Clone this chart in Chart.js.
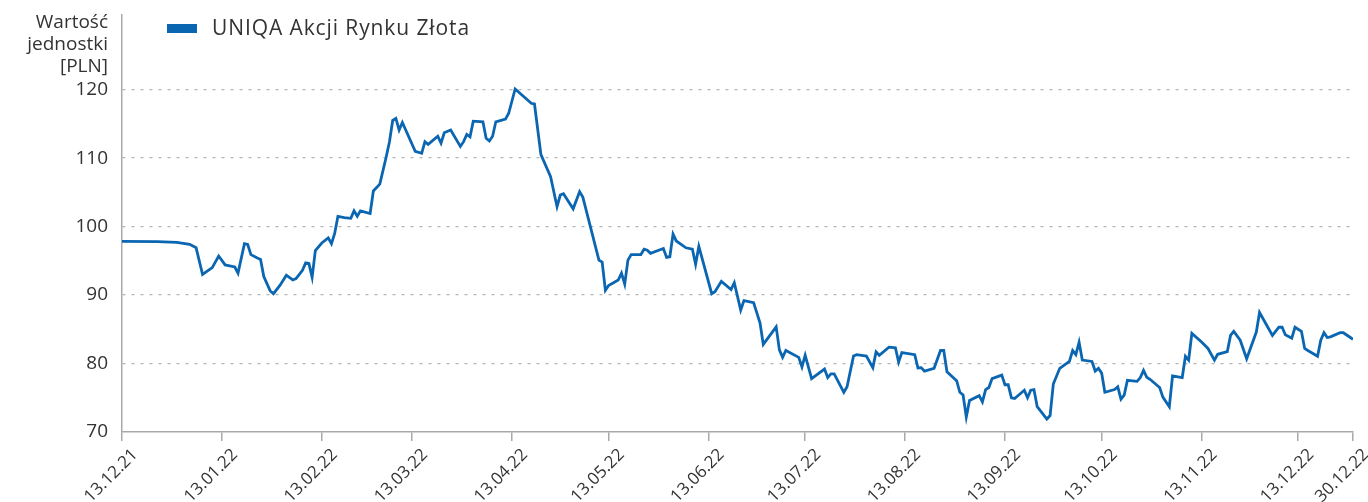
<!DOCTYPE html>
<html>
<head>
<meta charset="utf-8">
<script src="https://cdn.jsdelivr.net/npm/chart.js@4/dist/chart.umd.min.js"></script>
<style>
  html, body { margin: 0; padding: 0; background: #fff; }
  #wrap { width: 1368px; height: 502px; position: relative; }
</style>
</head>
<body>
<div id="wrap"><canvas id="fundChart"></canvas></div>
<script>
// dane
const seriesName = 'UNIQA Akcji Rynku Złota';
const yTitle = ['Wartość', 'jednostki', '[PLN]'];
const yTicks = [70, 80, 90, 100, 110, 120];
const tickLabels = ['13.12.21', '13.01.22', '13.02.22', '13.03.22', '13.04.22', '13.05.22', '13.06.22',
  '13.07.22', '13.08.22', '13.09.22', '13.10.22', '13.11.22', '13.12.22', '30.12.22'];

const dates = [
  '13.12.21', '24.12.21', '30.12.21', '03.01.22', '05.01.22', '07.01.22', '10.01.22', '12.01.22', '14.01.22', '17.01.22',
  '18.01.22', '20.01.22', '21.01.22', '22.01.22', '24.01.22', '25.01.22', '26.01.22', '28.01.22', '29.01.22', '31.01.22',
  '02.02.22', '04.02.22', '05.02.22', '07.02.22', '08.02.22', '09.02.22', '10.02.22', '11.02.22', '13.02.22', '15.02.22',
  '16.02.22', '17.02.22', '18.02.22', '20.02.22', '22.02.22', '23.02.22', '24.02.22', '25.02.22', '28.02.22', '01.03.22',
  '03.03.22', '05.03.22', '06.03.22', '07.03.22', '08.03.22', '09.03.22', '10.03.22', '14.03.22', '16.03.22', '17.03.22',
  '18.03.22', '21.03.22', '22.03.22', '23.03.22', '25.03.22', '28.03.22', '29.03.22', '30.03.22', '31.03.22', '01.04.22',
  '04.04.22', '05.04.22', '06.04.22', '07.04.22', '08.04.22', '11.04.22', '12.04.22', '14.04.22', '19.04.22', '20.04.22',
  '22.04.22', '25.04.22', '27.04.22', '28.04.22', '29.04.22', '02.05.22', '04.05.22', '05.05.22', '10.05.22', '11.05.22',
  '12.05.22', '13.05.22', '16.05.22', '17.05.22', '18.05.22', '19.05.22', '20.05.22', '23.05.22', '24.05.22', '25.05.22',
  '26.05.22', '30.05.22', '31.05.22', '01.06.22', '02.06.22', '03.06.22', '06.06.22', '08.06.22', '09.06.22', '10.06.22',
  '14.06.22', '15.06.22', '17.06.22', '20.06.22', '21.06.22', '23.06.22', '24.06.22', '27.06.22', '29.06.22', '30.06.22',
  '04.07.22', '05.07.22', '06.07.22', '07.07.22', '11.07.22', '12.07.22', '13.07.22', '15.07.22', '19.07.22', '20.07.22',
  '21.07.22', '22.07.22', '25.07.22', '26.07.22', '28.07.22', '29.07.22', '01.08.22', '03.08.22', '04.08.22', '05.08.22',
  '08.08.22', '10.08.22', '11.08.22', '12.08.22', '16.08.22', '17.08.22', '18.08.22', '19.08.22', '22.08.22', '24.08.22',
  '25.08.22', '26.08.22', '29.08.22', '30.08.22', '31.08.22', '01.09.22', '02.09.22', '05.09.22', '06.09.22', '07.09.22',
  '08.09.22', '09.09.22', '12.09.22', '13.09.22', '14.09.22', '15.09.22', '16.09.22', '19.09.22', '20.09.22', '21.09.22',
  '22.09.22', '23.09.22', '26.09.22', '27.09.22', '28.09.22', '30.09.22', '03.10.22', '04.10.22', '05.10.22', '06.10.22',
  '07.10.22', '10.10.22', '11.10.22', '12.10.22', '13.10.22', '14.10.22', '17.10.22', '18.10.22', '19.10.22', '20.10.22',
  '21.10.22', '24.10.22', '25.10.22', '26.10.22', '27.10.22', '28.10.22', '31.10.22', '01.11.22', '03.11.22', '04.11.22',
  '07.11.22', '08.11.22', '09.11.22', '10.11.22', '13.11.22', '15.11.22', '17.11.22', '18.11.22', '21.11.22', '22.11.22',
  '23.11.22', '25.11.22', '27.11.22', '30.11.22', '01.12.22', '05.12.22', '07.12.22', '08.12.22', '09.12.22', '11.12.22',
  '12.12.22', '14.12.22', '15.12.22', '16.12.22', '19.12.22', '20.12.22', '21.12.22', '22.12.22', '23.12.22', '26.12.22',
  '27.12.22', '30.12.22'
];

const values = [
  97.85, 97.8, 97.7, 97.4, 96.9, 93.0, 94.0, 95.7, 94.4, 94.1,
  93.2, 97.5, 97.4, 95.9, 95.4, 95.2, 92.7, 90.6, 90.2, 91.4,
  92.9, 92.2, 92.4, 93.6, 94.7, 94.6, 92.6, 96.5, 97.6, 98.35,
  97.5, 99.0, 101.5, 101.3, 101.2, 102.3, 101.5, 102.3, 101.9, 105.2,
  106.2, 110.2, 112.4, 115.5, 115.8, 114.1, 115.2, 111.0, 110.7, 112.4,
  112.0, 113.2, 112.2, 113.7, 114.1, 111.7, 112.4, 113.45, 113.1, 115.4,
  115.3, 112.9, 112.5, 113.2, 115.3, 115.7, 116.55, 120.1, 118.0, 117.9,
  110.5, 107.3, 102.9, 104.6, 104.8, 102.6, 105.1, 104.3, 95.1, 94.8,
  90.7, 91.4, 92.2, 93.2, 91.6, 95.1, 95.9, 95.9, 96.7, 96.55,
  96.1, 96.8, 95.5, 95.6, 98.9, 97.9, 96.9, 96.7, 94.5, 97.1,
  90.2, 90.5, 92.0, 90.8, 91.8, 87.8, 89.2, 88.9, 85.9, 82.8,
  85.35, 82.0, 80.9, 81.9, 80.9, 79.5, 81.2, 77.8, 79.2, 77.95,
  78.5, 78.5, 75.8, 76.6, 81.1, 81.3, 81.1, 79.4, 81.7, 81.2,
  82.4, 82.3, 80.2, 81.6, 81.3, 79.35, 79.4, 78.9, 79.3, 81.9,
  81.9, 78.8, 77.5, 75.8, 75.4, 72.2, 74.6, 75.3, 74.4, 76.2,
  76.5, 77.8, 78.3, 76.9, 76.9, 75.0, 74.9, 76.1, 75.0, 76.1,
  76.2, 73.7, 71.9, 72.4, 77.0, 79.3, 80.3, 81.9, 81.3, 83.1,
  80.5, 80.3, 78.9, 79.3, 78.6, 75.8, 76.2, 76.6, 74.8, 75.4,
  77.55, 77.4, 77.95, 79.0, 78.0, 77.7, 76.5, 75.1, 73.7, 78.2,
  77.95, 81.06, 80.5, 84.4, 83.15, 82.2, 80.5, 81.35, 81.75, 84.1,
  84.7, 83.4, 80.7, 84.6, 87.45, 84.1, 85.3, 85.3, 84.2, 83.7,
  85.3, 84.7, 82.2, 81.9, 81.06, 83.4, 84.5, 83.8, 83.9, 84.5,
  84.5, 83.55
];

const lineColor = '#0b66b2';
const textColor = '#333333';
const axisColor = '#a9a9a9';
const fontName = '"Open Sans", Lato, sans-serif';

// dzień liczony od 13.12.21
function dayOf(s) {
  const [d, m, y] = s.split('.').map(Number);
  return (Date.UTC(2000 + y, m - 1, d) - Date.UTC(2021, 11, 13)) / 864e5;
}

const points = dates.map((d, i) => ({ x: dayOf(d), y: values[i] }));
const tickDays = tickLabels.map(dayOf);

const overlay = {
  id: 'overlay',
  afterDraw(chart) {
    const ctx = chart.ctx;
    ctx.save();
    // tytuł osi Y
    ctx.fillStyle = textColor;
    ctx.font = '19px ' + fontName;
    ctx.textAlign = 'right';
    ctx.textBaseline = 'alphabetic';
    yTitle.forEach((t, i) => ctx.fillText(t, 108, 28 + i * 22));
    // legenda
    ctx.fillStyle = lineColor;
    ctx.fillRect(167, 24, 30, 9);
    ctx.fillStyle = textColor;
    ctx.textAlign = 'left';
    ctx.textBaseline = 'middle';
    ctx.font = '21px ' + fontName;
    ctx.letterSpacing = '0.9px';
    ctx.fillText(seriesName, 212, 29);
    ctx.letterSpacing = '0px';
    // etykiety osi X (obrócone)
    const xs = chart.scales.x;
    ctx.font = '17px ' + fontName;
    ctx.textAlign = 'right';
    ctx.textBaseline = 'middle';
    tickLabels.forEach(l => {
      const x = xs.getPixelForValue(dayOf(l));
      ctx.save();
      ctx.translate(x + 13, 452);
      ctx.rotate(-Math.PI / 4);
      ctx.fillText(l, 0, 0);
      ctx.restore();
    });
    ctx.restore();
  }
};

const ctx = document.getElementById('fundChart').getContext('2d');
const fundChart = new Chart(ctx, {
  type: 'line',
  data: {
    datasets: [{
      label: seriesName,
      data: points,
      borderColor: lineColor,
      borderWidth: 2.8,
      pointRadius: 0,
      tension: 0,
      fill: false
    }]
  },
  options: {
    responsive: true,
    maintainAspectRatio: false,
    animation: false,
    layout: { padding: { top: 15, right: 15, left: 0, bottom: 0 } },
    plugins: {
      legend: { display: false },
      tooltip: { enabled: false }
    },
    scales: {
      x: {
        type: 'linear',
        min: 0,
        max: dayOf('30.12.22'),
        afterBuildTicks: axis => { axis.ticks = tickDays.map(v => ({ value: v })); },
        afterFit: axis => {
          axis.height = 70;
          axis.paddingLeft = 0;
          axis.paddingRight = 0;
        },
        ticks: { display: false },
        grid: { drawOnChartArea: false, drawTicks: true, tickLength: 9, color: axisColor, lineWidth: 1.5 },
        border: { color: axisColor, width: 1.5 }
      },
      y: {
        min: 70,
        max: 130.9,
        afterBuildTicks: axis => { axis.ticks = yTicks.map(v => ({ value: v })); },
        afterFit: axis => {
          axis.width = 122;
          axis.paddingTop = 0;
          axis.paddingBottom = 0;
        },
        ticks: {
          color: textColor,
          font: { family: fontName, size: 19 },
          padding: 14
        },
        grid: {
          drawTicks: false,
          color: ctx => ctx.tick && ctx.tick.value === 70 ? 'rgba(0,0,0,0)' : '#b5b5b5',
          lineWidth: 1.3
        },
        border: { color: axisColor, width: 1.5, dash: [3, 6] }
      }
    }
  },
  plugins: [overlay]
});
</script>
</body>
</html>
